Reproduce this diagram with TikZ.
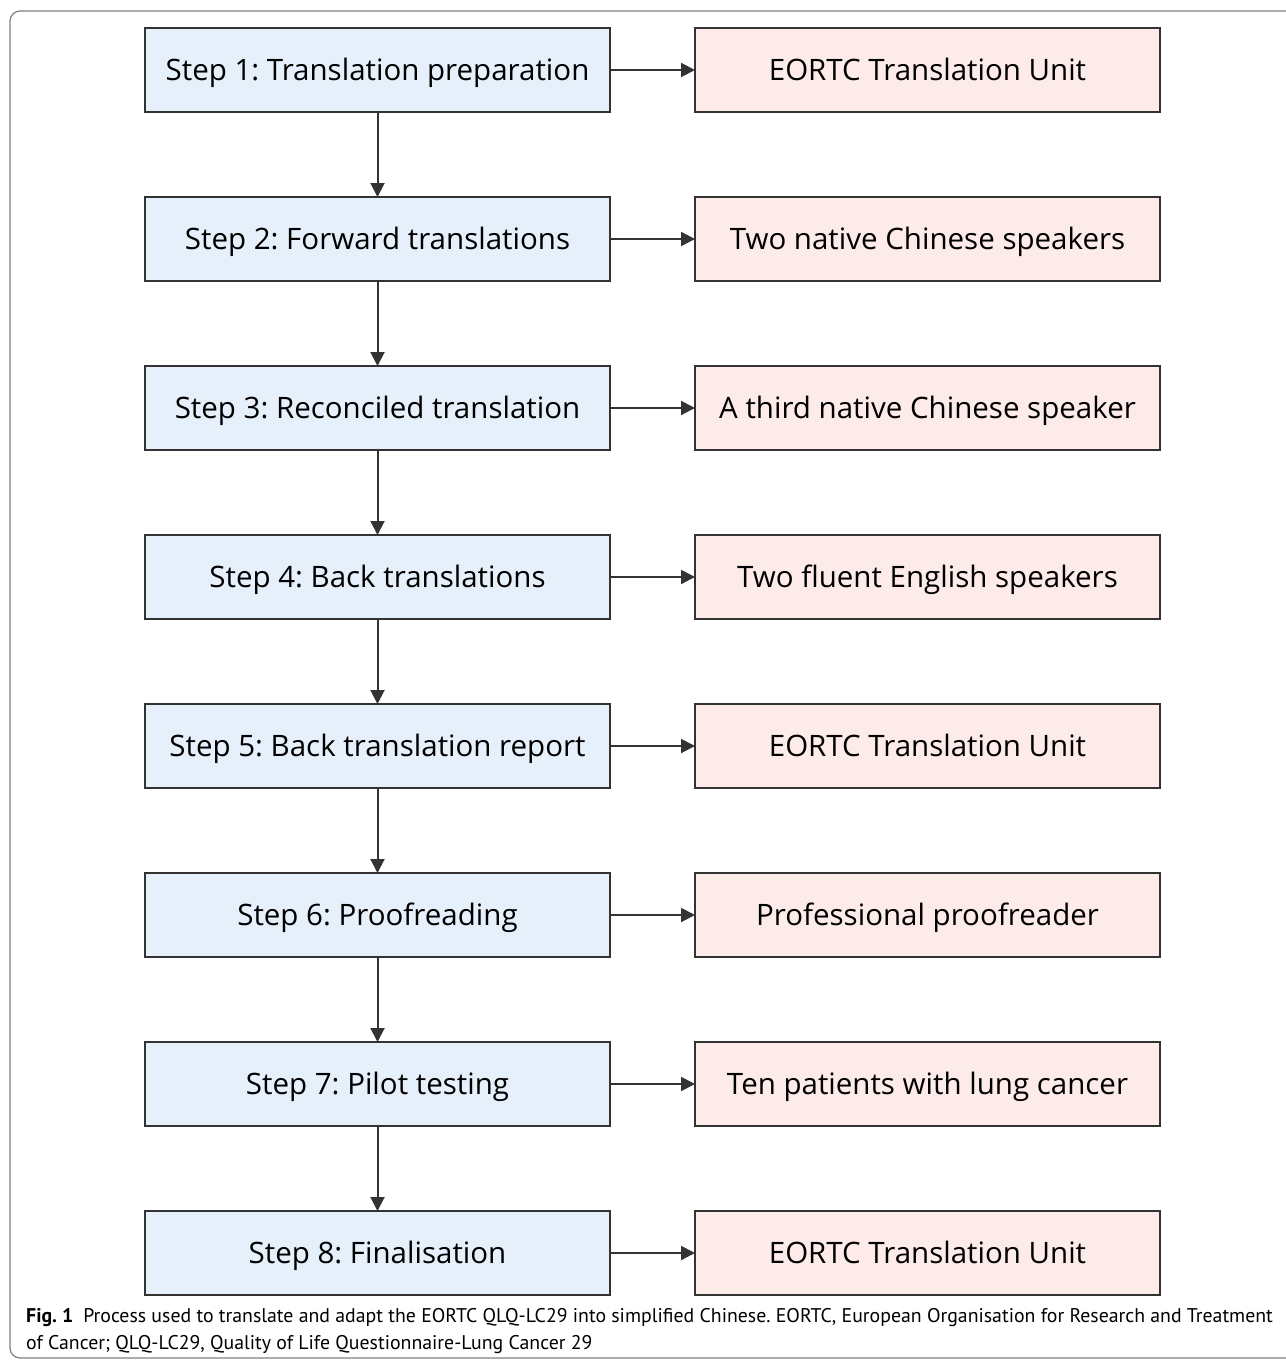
\documentclass[tikz,border=0pt]{standalone}
\usepackage{fontspec}
\setmainfont{Open Sans}
\newfontfamily\capfont{PT Sans}
\usetikzlibrary{positioning,arrows.meta}
\frenchspacing

\definecolor{stepblue}{RGB}{230,240,251}
\definecolor{unitpink}{RGB}{253,235,233}
\definecolor{edgegray}{RGB}{51,51,51}

\tikzset{
  stepbox/.style={draw=edgegray, line width=2pt, fill=stepblue,
    minimum width=465pt, minimum height=84pt, inner sep=0pt, outer sep=0pt,
    text height=21pt, text depth=0pt,
    font=\fontsize{29.5}{36}\selectfont},
  unitbox/.style={stepbox, fill=unitpink},
  flow/.style={draw=edgegray, line width=2pt, -{Triangle[length=14pt,width=14pt]}},
  captext/.style={anchor=base west, inner sep=0pt, font=\capfont\fontsize{19.8}{24}\selectfont},
}

\begin{document}
\begin{tikzpicture}[x=1pt, y=-1pt, node distance=85pt and 85pt]
    \useasboundingbox (0,0) rectangle (1285,1362);
    \draw[rounded corners=10pt, line width=1.2pt, draw=gray] (1300,11) -- (10,11) -- (10,1358) -- (1300,1358);

    % steps
    \node[stepbox] (s1) at (377.5,70) {Step 1: Translation preparation};
    \node[stepbox, below=of s1] (s2) {Step 2: Forward translations};
    \node[stepbox, below=of s2] (s3) {Step 3: Reconciled translation};
    \node[stepbox, below=of s3] (s4) {Step 4: Back translations};
    \node[stepbox, below=of s4] (s5) {Step 5: Back translation report};
    \node[stepbox, below=of s5] (s6) {Step 6: Proofreading};
    \node[stepbox, below=of s6] (s7) {Step 7: Pilot testing};
    \node[stepbox, below=of s7] (s8) {Step 8: Finalisation};

    % who does it
    \node[unitbox, right=of s1] (u1) {EORTC Translation Unit};
    \node[unitbox, right=of s2] (u2) {Two native Chinese speakers};
    \node[unitbox, right=of s3] (u3) {A third native Chinese speaker};
    \node[unitbox, right=of s4] (u4) {Two fluent English speakers};
    \node[unitbox, right=of s5] (u5) {EORTC Translation Unit};
    \node[unitbox, right=of s6] (u6) {Professional proofreader};
    \node[unitbox, right=of s7] (u7) {Ten patients with lung cancer};
    \node[unitbox, right=of s8] (u8) {EORTC Translation Unit};

    \draw[flow] (s1) -- (s2);
    \draw[flow] (s2) -- (s3);
    \draw[flow] (s3) -- (s4);
    \draw[flow] (s4) -- (s5);
    \draw[flow] (s5) -- (s6);
    \draw[flow] (s6) -- (s7);
    \draw[flow] (s7) -- (s8);
    \draw[flow] (s1) -- (u1);
    \draw[flow] (s2) -- (u2);
    \draw[flow] (s3) -- (u3);
    \draw[flow] (s4) -- (u4);
    \draw[flow] (s5) -- (u5);
    \draw[flow] (s6) -- (u6);
    \draw[flow] (s7) -- (u7);
    \draw[flow] (s8) -- (u8);

    % caption
    \node[captext] (cap1) at (26,1322) {\textbf{Fig. 1}\hspace{10pt}Process used to translate and adapt the EORTC QLQ-LC29 into simplified Chinese. EORTC, European Organisation for Research and Treatment};
    \node[captext] (cap2) at (26,1349) {of Cancer; QLQ-LC29, Quality of Life Questionnaire-Lung Cancer 29};
\end{tikzpicture}
\end{document}
